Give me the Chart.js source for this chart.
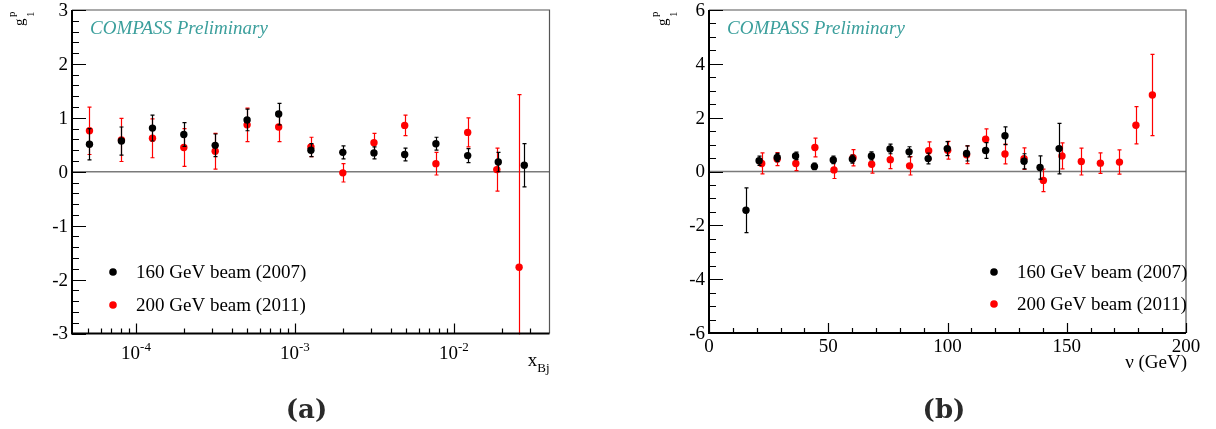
<!DOCTYPE html>
<html>
<head>
<meta charset="utf-8">
<script src="https://cdn.jsdelivr.net/npm/chart.js@4.4.1/dist/chart.umd.min.js"></script>
<style>
html,body{margin:0;padding:0;background:#fff;}
#wrap{position:relative;width:1216px;height:429px;overflow:hidden;}
canvas{position:absolute;top:0;}
#ca{left:0;}
#cb{left:608px;}
</style>
</head>
<body>
<div id="wrap">
<canvas id="ca" width="608" height="429"></canvas>
<canvas id="cb" width="608" height="429"></canvas>
</div>
<script>
// ---------- Panel (a): g1p vs x_Bj ----------
const xBj2007 = [5.1e-5, 8.1e-5, 1.27e-4, 2.0e-4, 3.15e-4, 5.0e-4, 7.9e-4, 1.26e-3, 2.0e-3, 3.14e-3, 4.9e-3, 7.7e-3, 1.22e-2, 1.90e-2, 2.77e-2];
const g1xBj2007 = [0.51, 0.57, 0.81, 0.69, 0.49, 0.96, 1.07, 0.40, 0.36, 0.35, 0.32, 0.52, 0.30, 0.18, 0.12];
const errxBj2007 = [0.29, 0.26, 0.24, 0.22, 0.21, 0.20, 0.20, 0.12, 0.12, 0.11, 0.12, 0.12, 0.13, 0.18, 0.40];
const xBj2011 = [5.1e-5, 8.1e-5, 1.27e-4, 2.0e-4, 3.15e-4, 5.0e-4, 7.9e-4, 1.26e-3, 2.0e-3, 3.14e-3, 4.9e-3, 7.7e-3, 1.22e-2, 1.86e-2, 2.57e-2];
const g1xBj2011 = [0.76, 0.59, 0.62, 0.45, 0.38, 0.87, 0.83, 0.46, -0.02, 0.54, 0.86, 0.15, 0.73, 0.04, -1.77];
const errxBj2011 = [0.44, 0.40, 0.36, 0.35, 0.33, 0.31, 0.27, 0.18, 0.17, 0.17, 0.19, 0.21, 0.27, 0.40, 3.20];

// ---------- Panel (b): g1p vs nu ----------
const nu2007 = [15.5, 21.0, 28.6, 36.3, 44.2, 52.1, 60.1, 68.1, 75.9, 83.9, 91.9, 99.9, 108.0, 116.0, 124.1, 132.1, 138.8, 146.8];
const g1nu2007 = [-1.44, 0.40, 0.52, 0.58, 0.19, 0.43, 0.46, 0.58, 0.84, 0.73, 0.48, 0.85, 0.67, 0.78, 1.33, 0.38, 0.15, 0.85];
const errnu2007 = [0.83, 0.17, 0.15, 0.14, 0.12, 0.14, 0.15, 0.15, 0.18, 0.19, 0.20, 0.26, 0.28, 0.29, 0.33, 0.28, 0.43, 0.94];
const nu2011 = [22.1, 28.6, 36.4, 44.4, 52.4, 60.4, 68.2, 76.0, 84.1, 92.1, 100.1, 108.0, 116.0, 124.1, 132.1, 140.2, 148.0, 156.1, 164.1, 172.1, 179.0, 185.9];
const g1nu2011 = [0.30, 0.46, 0.30, 0.89, 0.06, 0.51, 0.27, 0.44, 0.21, 0.77, 0.79, 0.62, 1.20, 0.65, 0.48, -0.33, 0.58, 0.37, 0.31, 0.35, 1.72, 2.84];
const errnu2011 = [0.39, 0.24, 0.27, 0.35, 0.32, 0.30, 0.33, 0.33, 0.34, 0.33, 0.33, 0.33, 0.38, 0.37, 0.40, 0.42, 0.48, 0.50, 0.38, 0.45, 0.69, 1.51];

// ---------- Axis / text definitions ----------
const seriesLabels = ['160 GeV beam (2007)', '200 GeV beam (2011)'];
const seriesColors = ['#000000', '#ff0000'];
const watermark = 'COMPASS Preliminary';
const logMajorTicks = [1e-4, 1e-3, 1e-2];
const logMajorExp = ['-4', '-3', '-2'];
const yTicksA = [-3, -2, -1, 0, 1, 2, 3];
const xTicksB = [0, 50, 100, 150, 200];
const yTicksB = [-6, -4, -2, 0, 2, 4, 6];

const SERIF = '"Liberation Serif", "DejaVu Serif", serif';

function pts(xs, ys, es) {
  return xs.map((x, i) => ({x: x, y: ys[i], e: es[i]}));
}

const errorBars = {
  id: 'errorBars',
  beforeDatasetDraw(chart, args) {
    const ds = chart.data.datasets[args.index];
    const ctx = chart.ctx, xs = chart.scales.x, ys = chart.scales.y, a = chart.chartArea;
    ctx.save();
    ctx.beginPath();
    ctx.rect(a.left, a.top, a.right - a.left, a.bottom - a.top + 1);
    ctx.clip();
    ctx.strokeStyle = ds.backgroundColor;
    ctx.lineWidth = 1.2;
    ds.data.forEach(p => {
      const px = Math.round(xs.getPixelForValue(p.x)) + 0.5;
      const y1 = ys.getPixelForValue(p.y + p.e);
      const y2 = ys.getPixelForValue(p.y - p.e);
      ctx.beginPath();
      ctx.moveTo(px, y1); ctx.lineTo(px, y2);
      ctx.moveTo(px - 2, y1); ctx.lineTo(px + 2, y1);
      ctx.moveTo(px - 2, y2); ctx.lineTo(px + 2, y2);
      ctx.stroke();
    });
    ctx.restore();
  }
};

const zeroLine = {
  id: 'zeroLine',
  beforeDatasetsDraw(chart) {
    const ctx = chart.ctx, a = chart.chartArea, y0 = chart.scales.y.getPixelForValue(0);
    ctx.save();
    ctx.strokeStyle = '#7a7a7a';
    ctx.lineWidth = 1.6;
    ctx.beginPath();
    ctx.moveTo(a.left, y0); ctx.lineTo(a.right, y0);
    ctx.stroke();
    ctx.restore();
  }
};

function drawYTitle(ctx, x, y) {
  ctx.save();
  ctx.translate(x, y);
  ctx.rotate(-Math.PI / 2);
  ctx.fillStyle = '#000';
  ctx.textBaseline = 'alphabetic';
  ctx.textAlign = 'left';
  ctx.font = '15px ' + SERIF;
  ctx.fillText('g', 0, 0);
  ctx.font = '11px ' + SERIF;
  ctx.fillText('p', 9, -9);
  ctx.fillText('1', 9, 10);
  ctx.restore();
}

function makeFrame(opts) {
  return {
    id: 'frame',
    afterDraw(chart) {
      const ctx = chart.ctx, a = chart.chartArea, xs = chart.scales.x, ys = chart.scales.y;
      ctx.save();
      // top/right frame
      ctx.strokeStyle = '#555';
      ctx.lineWidth = 1.2;
      ctx.beginPath();
      ctx.moveTo(a.left, a.top); ctx.lineTo(a.right, a.top); ctx.lineTo(a.right, a.bottom);
      ctx.stroke();
      // ticks
      ctx.strokeStyle = '#000';
      ctx.lineWidth = 1.2;
      ctx.beginPath();
      opts.yMinor.forEach(v => {
        const py = Math.round(ys.getPixelForValue(v)) + 0.5;
        ctx.moveTo(a.left, py); ctx.lineTo(a.left + 7, py);
      });
      opts.yMajor.forEach(v => {
        const py = Math.round(ys.getPixelForValue(v)) + 0.5;
        ctx.moveTo(a.left, py); ctx.lineTo(a.left + 14, py);
      });
      opts.xMinor.forEach(v => {
        const px = Math.round(xs.getPixelForValue(v)) + 0.5;
        ctx.moveTo(px, a.bottom); ctx.lineTo(px, a.bottom - 5);
      });
      opts.xMajor.forEach(v => {
        const px = Math.round(xs.getPixelForValue(v)) + 0.5;
        ctx.moveTo(px, a.bottom); ctx.lineTo(px, a.bottom - 10);
      });
      ctx.stroke();
      // left/bottom axes
      ctx.lineWidth = 2;
      ctx.beginPath();
      ctx.moveTo(a.left, a.top); ctx.lineTo(a.left, a.bottom); ctx.lineTo(a.right, a.bottom);
      ctx.stroke();
      // y labels
      ctx.fillStyle = '#000';
      ctx.font = '19px ' + SERIF;
      ctx.textAlign = 'right';
      ctx.textBaseline = 'middle';
      opts.yMajor.forEach(v => {
        ctx.fillText(String(v), a.left - 4, ys.getPixelForValue(v) + 1);
      });
      // x labels
      ctx.textBaseline = 'alphabetic';
      if (opts.log) {
        opts.xMajor.forEach((v, i) => {
          ctx.font = '19px ' + SERIF;
          const w1 = ctx.measureText('10').width;
          ctx.font = '13px ' + SERIF;
          const w2 = ctx.measureText(opts.xExp[i]).width;
          const px = xs.getPixelForValue(v);
          const x0 = px - (w1 + w2) / 2;
          ctx.textAlign = 'left';
          ctx.font = '19px ' + SERIF;
          ctx.fillText('10', x0, 359);
          ctx.font = '13px ' + SERIF;
          ctx.fillText(opts.xExp[i], x0 + w1, 351);
        });
      } else {
        ctx.textAlign = 'center';
        ctx.font = '19px ' + SERIF;
        opts.xMajor.forEach(v => {
          ctx.fillText(String(v), xs.getPixelForValue(v), 352);
        });
      }
      // x title
      ctx.textAlign = 'right';
      if (opts.log) {
        ctx.font = '13px ' + SERIF;
        const wb = ctx.measureText('Bj').width;
        ctx.fillText('Bj', a.right, 372);
        ctx.font = '19px ' + SERIF;
        ctx.fillText('x', a.right - wb, 366);
      } else {
        ctx.font = '19px ' + SERIF;
        ctx.fillText('\u03BD (GeV)', a.right + 1, 368);
      }
      // y title
      drawYTitle(ctx, opts.yTitleX, 26);
      // watermark
      ctx.font = 'italic 19px ' + SERIF;
      ctx.fillStyle = '#3b9f9c';
      ctx.textAlign = 'left';
      ctx.fillText(watermark, a.left + 18, 34);
      // legend
      ctx.font = '19px ' + SERIF;
      ctx.textBaseline = 'middle';
      seriesLabels.forEach((lab, i) => {
        const ly = opts.legendY[i];
        ctx.fillStyle = seriesColors[i];
        ctx.beginPath();
        ctx.arc(opts.legendX, ly, 3.8, 0, Math.PI * 2);
        ctx.fill();
        ctx.fillStyle = '#000';
        ctx.fillText(lab, opts.legendX + 23, ly + 1);
      });
      // caption
      ctx.font = 'bold 26px "DejaVu Serif", serif';
      ctx.textAlign = 'center';
      ctx.textBaseline = 'alphabetic';
      ctx.fillStyle = '#2a2a2a';
      ctx.fillText(opts.caption, opts.captionX, 418);
      ctx.restore();
    }
  };
}

function range(a, b, s) { const r = []; for (let v = a; v <= b + 1e-9; v += s) r.push(Math.round(v * 1000) / 1000); return r; }

const logMinor = [];
[1e-5, 1e-4, 1e-3, 1e-2].forEach(d => { for (let k = 2; k <= 9; k++) { const v = k * d; if (v > 4e-5 && v < 0.04) logMinor.push(v); } });

function makeChart(id, dsets, xScale, yScale, pad, frameOpts) {
  return new Chart(document.getElementById(id), {
    type: 'scatter',
    data: {
      datasets: dsets.map((d, i) => ({
        label: seriesLabels[i],
        data: d,
        backgroundColor: seriesColors[i],
        borderWidth: 0,
        pointRadius: 3.7,
        pointHoverRadius: 3.7,
        clip: 0
      }))
    },
    options: {
      responsive: false,
      animation: false,
      events: [],
      layout: {padding: pad},
      plugins: {legend: {display: false}, tooltip: {enabled: false}},
      scales: {x: xScale, y: yScale}
    },
    plugins: [zeroLine, errorBars, makeFrame(frameOpts)]
  });
}

makeChart('ca',
  [pts(xBj2007, g1xBj2007, errxBj2007), pts(xBj2011, g1xBj2011, errxBj2011)],
  {type: 'logarithmic', min: 3.96e-5, max: 0.0399, display: false},
  {type: 'linear', min: -3, max: 3, display: false},
  {left: 72, right: 58.5, top: 10, bottom: 95.5},
  {log: true, xMajor: logMajorTicks, xExp: logMajorExp, xMinor: logMinor,
   yMajor: yTicksA, yMinor: range(-3, 3, 0.2),
   yTitleX: 24, legendX: 113, legendY: [272, 305], caption: '(a)', captionX: 306.5});

makeChart('cb',
  [pts(nu2007, g1nu2007, errnu2007), pts(nu2011, g1nu2011, errnu2011)],
  {type: 'linear', min: 0, max: 200, display: false},
  {type: 'linear', min: -6, max: 6, display: false},
  {left: 101, right: 30, top: 10, bottom: 96},
  {log: false, xMajor: xTicksB, xMinor: range(0, 200, 10),
   yMajor: yTicksB, yMinor: range(-6, 6, 0.5),
   yTitleX: 59, legendX: 386, legendY: [272, 304], caption: '(b)', captionX: 336});
</script>
</body>
</html>
